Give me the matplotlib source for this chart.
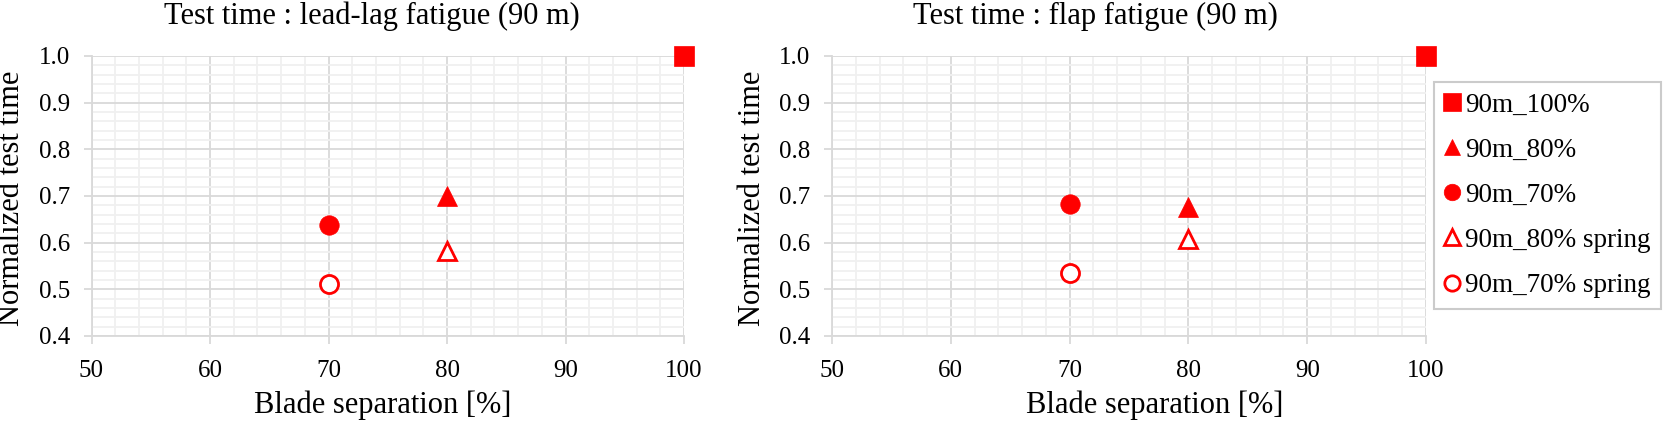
import matplotlib
matplotlib.use('Agg')
from matplotlib import pyplot as plt
from matplotlib.ticker import MultipleLocator, FormatStrFormatter

plt.rcParams['font.family'] = ['Liberation Serif', 'DejaVu Serif']

# data
titles = ['Test time : lead-lag fatigue (90 m)', 'Test time : flap fatigue (90 m)']
series_names = ['90m_100%', '90m_80%', '90m_70%', '90m_80% spring', '90m_70% spring']
series_x = [100, 80, 70, 80, 70]
leadlag_y = [1.0, 0.70, 0.637, 0.582, 0.511]
flap_y = [1.0, 0.677, 0.683, 0.607, 0.535]
panel_values = [leadlag_y, flap_y]

markers = ['s', '^', 'o', '^', 'o']
filled = [True, True, True, False, False]
sizes = [15, 14, 14, 13, 13]
red = '#ff0000'

fig = plt.figure(figsize=(16.77, 4.25), dpi=100)
W, H = 1677.0, 425.0

axes_px = [(91.5, 684), (832, 1426)]
top_px, bot_px = 56, 336
title_x = [372, 1095]
xlabel_x = [383, 1155]
ylabel_x = [12, 753]

for i, (x0, x1) in enumerate(axes_px):
    ax = fig.add_axes([x0 / W, 1 - bot_px / H, (x1 - x0) / W, (bot_px - top_px) / H])
    ax.set_xlim(50, 100)
    ax.set_ylim(0.4, 1.0)
    ax.xaxis.set_major_locator(MultipleLocator(10))
    ax.xaxis.set_minor_locator(MultipleLocator(2))
    ax.yaxis.set_major_locator(MultipleLocator(0.1))
    ax.yaxis.set_minor_locator(MultipleLocator(0.02))
    ax.yaxis.set_major_formatter(FormatStrFormatter('%.1f'))
    ax.grid(which='minor', color='#f0f0f0', linewidth=1.3)
    ax.grid(which='major', color='#d9d9d9', linewidth=1.3)
    ax.set_axisbelow(True)
    for s in ['top', 'right']:
        ax.spines[s].set_visible(False)
    for s in ['left', 'bottom']:
        ax.spines[s].set_color('#d9d9d9')
        ax.spines[s].set_linewidth(1.3)
    ax.tick_params(which='major', direction='out', length=5.5, width=1.3,
                   color='#d9d9d9', labelsize=18)
    ax.tick_params(axis='x', pad=12)
    ax.tick_params(axis='y', pad=10)
    ax.tick_params(which='minor', length=0)

    for j in range(len(series_names)):
        ax.plot(series_x[j], panel_values[i][j], linestyle='none',
                marker=markers[j], markersize=sizes[j],
                markerfacecolor=red if filled[j] else 'white',
                markeredgecolor=red, markeredgewidth=2 if not filled[j] else 0.5,
                label=series_names[j], clip_on=False, zorder=5)

    fig.text(title_x[i] / W, 1 - 16 / H, titles[i], ha='center', va='center', fontsize=22)
    fig.text(xlabel_x[i] / W, 1 - 405 / H, 'Blade separation [%]', ha='center', va='center', fontsize=22)
    fig.text(ylabel_x[i] / W, 1 - 198 / H, 'Normalized test time', ha='center', va='center',
             rotation=90, fontsize=22)

handles, labels = ax.get_legend_handles_labels()
leg = fig.legend(handles, labels, loc='upper left', bbox_to_anchor=(1434 / W, 1 - 82 / H),
                 bbox_transform=fig.transFigure, borderaxespad=0, fancybox=False,
                 fontsize=19.5, handlelength=0.55, handletextpad=0.2, labelspacing=0.74,
                 borderpad=0.4, markerscale=0.85, frameon=True)
leg.get_frame().set_edgecolor('#bfbfbf')
leg.get_frame().set_linewidth(1.5)

plt.savefig('out.png', dpi=100)
